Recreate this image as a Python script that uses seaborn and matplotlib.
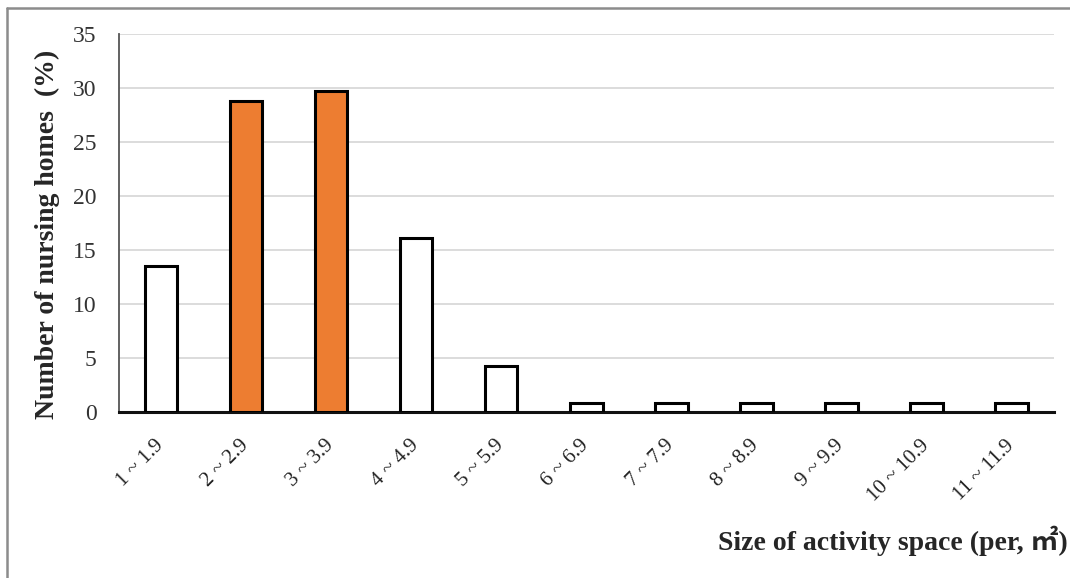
import matplotlib
matplotlib.use("Agg")
import matplotlib.pyplot as plt
from matplotlib.lines import Line2D
import seaborn as sns
import pandas as pd

# Share of nursing homes by activity space per resident
categories = ["1 ~ 1.9", "2 ~ 2.9", "3 ~ 3.9", "4 ~ 4.9", "5 ~ 5.9", "6 ~ 6.9",
              "7 ~ 7.9", "8 ~ 8.9", "9 ~ 9.9", "10 ~ 10.9", "11 ~ 11.9"]
percent = [13.5, 28.8, 29.7, 16.1, 4.3, 0.8, 0.8, 0.8, 0.8, 0.8, 0.8]
highlight = [False, True, True, False, False, False, False, False, False, False, False]
y_ticks = [0, 5, 10, 15, 20, 25, 30, 35]

ORANGE = "#ED7D31"

sns.set_theme(style="white")
plt.rcParams["font.family"] = ["Liberation Serif", "Noto Sans CJK SC"]

df = pd.DataFrame({"range": categories, "pct": percent})
palette = {c: (ORANGE if h else "white") for c, h in zip(categories, highlight)}

fig = plt.figure(figsize=(10.70, 5.78), dpi=100)
ax = fig.add_axes([0.111, 0.287, 0.874, 0.654])

sns.barplot(data=df, x="range", y="pct", hue="range", palette=palette,
            edgecolor="black", linewidth=2.2, width=0.38, legend=False,
            saturation=1, ax=ax, zorder=3)

ax.set_ylim(0, 35)
ax.set_xlim(-0.5, len(categories) - 0.5)
ax.set_yticks(y_ticks)
ax.set_yticklabels([str(t) for t in y_ticks], fontsize=17, color="#333333")
ax.yaxis.grid(True, color="#d9d9d9", linewidth=1.3, zorder=0)
ax.set_axisbelow(True)

ax.set_xticks(range(len(categories)))
ax.set_xticklabels(categories, rotation=45, ha="right", va="center",
                   rotation_mode="anchor", fontsize=15, color="#222222")
ax.tick_params(axis="y", length=0, pad=16)
ax.tick_params(axis="x", length=0, pad=22)

for side in ["top", "right"]:
    ax.spines[side].set_visible(False)
ax.spines["left"].set_color("#555555")
ax.spines["left"].set_linewidth(1.3)
ax.spines["bottom"].set_color("#111111")
ax.spines["bottom"].set_linewidth(2.2)

ax.set_xlabel("")
ax.set_ylabel("Number of nursing homes  (%)", fontsize=20, fontweight="bold")
ax.yaxis.set_label_coords(-0.063, 0.47)

fig.text(0.998, 0.048, "Size of activity space (per, ㎡)", ha="right", va="baseline",
         fontsize=20, fontweight="bold")

# Frame lines along the left and top of the figure
fig.add_artist(Line2D([0.0065, 0.0065], [0.0, 0.986], transform=fig.transFigure,
                      color="#8c8c8c", linewidth=1.8))
fig.add_artist(Line2D([0.0065, 1.0], [0.986, 0.986], transform=fig.transFigure,
                      color="#8c8c8c", linewidth=1.8))

fig.savefig("out.png", dpi=100, facecolor="white")
